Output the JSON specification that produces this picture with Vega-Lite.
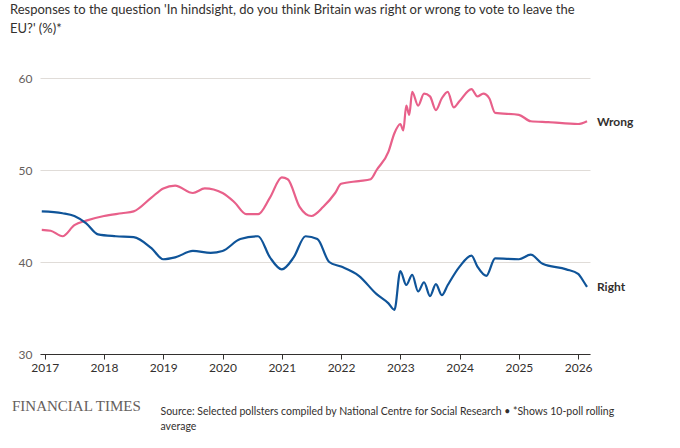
{
"$schema":"https://vega.github.io/schema/vega-lite/v6.json",
"width":550,"height":276,
"autosize":{"type":"none"},
"padding":{"left":40,"top":78,"right":90,"bottom":94},
"background":"#ffffff",
"config":{"font":"Lato","view":{"stroke":null}},
"title":{"text":["Responses to the question 'In hindsight, do you think Britain was right or wrong to vote to leave the","EU?' (%)*"],"anchor":"start","dx":-2,"offset":36,"fontSize":13,"fontWeight":"normal","color":"#33302e","lineHeight":19,"font":"Lato"},
"datasets":{
"lines":[
{"s":"Wrong","t":2016.95,"v":43.5},{"s":"Wrong","t":2017.1,"v":43.4},{"s":"Wrong","t":2017.3,"v":42.8},{"s":"Wrong","t":2017.5,"v":44},{"s":"Wrong","t":2017.7,"v":44.5},{"s":"Wrong","t":2018.0,"v":45},{"s":"Wrong","t":2018.3,"v":45.3},{"s":"Wrong","t":2018.5,"v":45.5},{"s":"Wrong","t":2018.8,"v":47},{"s":"Wrong","t":2019.0,"v":48},{"s":"Wrong","t":2019.2,"v":48.3},{"s":"Wrong","t":2019.5,"v":47.5},{"s":"Wrong","t":2019.7,"v":48},{"s":"Wrong","t":2020.0,"v":47.5},{"s":"Wrong","t":2020.2,"v":46.5},{"s":"Wrong","t":2020.4,"v":45.2},{"s":"Wrong","t":2020.6,"v":45.2},{"s":"Wrong","t":2020.8,"v":47},{"s":"Wrong","t":2021.0,"v":49.2},{"s":"Wrong","t":2021.1,"v":49},{"s":"Wrong","t":2021.3,"v":46},{"s":"Wrong","t":2021.5,"v":45},{"s":"Wrong","t":2021.7,"v":46},{"s":"Wrong","t":2021.9,"v":47.5},{"s":"Wrong","t":2022.0,"v":48.5},{"s":"Wrong","t":2022.3,"v":48.8},{"s":"Wrong","t":2022.5,"v":49},{"s":"Wrong","t":2022.6,"v":50},{"s":"Wrong","t":2022.8,"v":52},{"s":"Wrong","t":2022.9,"v":54},{"s":"Wrong","t":2023.0,"v":55},{"s":"Wrong","t":2023.05,"v":54.3},{"s":"Wrong","t":2023.1,"v":57},{"s":"Wrong","t":2023.15,"v":56},{"s":"Wrong","t":2023.2,"v":58.5},{"s":"Wrong","t":2023.3,"v":57},{"s":"Wrong","t":2023.4,"v":58.3},{"s":"Wrong","t":2023.5,"v":58},{"s":"Wrong","t":2023.6,"v":56.5},{"s":"Wrong","t":2023.7,"v":57.8},{"s":"Wrong","t":2023.8,"v":58.5},{"s":"Wrong","t":2023.9,"v":56.8},{"s":"Wrong","t":2024.0,"v":57.5},{"s":"Wrong","t":2024.2,"v":58.8},{"s":"Wrong","t":2024.3,"v":58},{"s":"Wrong","t":2024.4,"v":58.3},{"s":"Wrong","t":2024.5,"v":57.8},{"s":"Wrong","t":2024.6,"v":56.2},{"s":"Wrong","t":2025.0,"v":56},{"s":"Wrong","t":2025.2,"v":55.3},{"s":"Wrong","t":2025.5,"v":55.2},{"s":"Wrong","t":2026.0,"v":55},{"s":"Wrong","t":2026.15,"v":55.3},
{"s":"Right","t":2016.95,"v":45.5},{"s":"Right","t":2017.3,"v":45.3},{"s":"Right","t":2017.5,"v":45},{"s":"Right","t":2017.7,"v":44.2},{"s":"Right","t":2017.9,"v":43},{"s":"Right","t":2018.2,"v":42.8},{"s":"Right","t":2018.5,"v":42.7},{"s":"Right","t":2018.8,"v":41.5},{"s":"Right","t":2019.0,"v":40.3},{"s":"Right","t":2019.2,"v":40.5},{"s":"Right","t":2019.5,"v":41.2},{"s":"Right","t":2019.8,"v":41},{"s":"Right","t":2020.0,"v":41.2},{"s":"Right","t":2020.3,"v":42.5},{"s":"Right","t":2020.6,"v":42.8},{"s":"Right","t":2020.8,"v":40.5},{"s":"Right","t":2021.0,"v":39.2},{"s":"Right","t":2021.2,"v":40.5},{"s":"Right","t":2021.4,"v":42.8},{"s":"Right","t":2021.6,"v":42.5},{"s":"Right","t":2021.8,"v":40},{"s":"Right","t":2022.0,"v":39.5},{"s":"Right","t":2022.3,"v":38.5},{"s":"Right","t":2022.6,"v":36.5},{"s":"Right","t":2022.8,"v":35.5},{"s":"Right","t":2022.9,"v":34.8},{"s":"Right","t":2023.0,"v":39},{"s":"Right","t":2023.1,"v":37.5},{"s":"Right","t":2023.2,"v":38.6},{"s":"Right","t":2023.3,"v":36.8},{"s":"Right","t":2023.4,"v":37.8},{"s":"Right","t":2023.5,"v":36.3},{"s":"Right","t":2023.6,"v":37.6},{"s":"Right","t":2023.7,"v":36.4},{"s":"Right","t":2023.8,"v":37.5},{"s":"Right","t":2024.0,"v":39.5},{"s":"Right","t":2024.2,"v":40.7},{"s":"Right","t":2024.3,"v":39.5},{"s":"Right","t":2024.45,"v":38.5},{"s":"Right","t":2024.6,"v":40.4},{"s":"Right","t":2025.0,"v":40.3},{"s":"Right","t":2025.2,"v":40.8},{"s":"Right","t":2025.4,"v":39.8},{"s":"Right","t":2025.8,"v":39.2},{"s":"Right","t":2026.0,"v":38.7},{"s":"Right","t":2026.1,"v":37.8},{"s":"Right","t":2026.15,"v":37.3}
],
"labels":[{"s":"Wrong","t":2026.25,"v":55.2},{"s":"Right","t":2026.25,"v":37.3}]
},
"encoding":{
"x":{"field":"t","type":"quantitative","scale":{"domain":[2016.92,2026.2],"nice":false,"zero":false},
"axis":{"values":[2017,2018,2019,2020,2021,2022,2023,2024,2025,2026],"format":"d","grid":false,"domainColor":"#33302e","tickColor":"#33302e","tickSize":5,"labelColor":"#33302e","labelFontSize":12,"labelPadding":3,
"title":["Source: Selected pollsters compiled by National Centre for Social Research • *Shows 10-poll rolling","average"],"titleFontSize":10.5,"titleFontWeight":"normal","titleColor":"#33302e","titleAnchor":"start","titleAlign":"left","titleX":120,"titleY":52,"titleLimit":600,"titleLineHeight":15,"titleBaseline":"top"}},
"y":{"field":"v","type":"quantitative","scale":{"domain":[30,60],"nice":false,"zero":false},
"axis":{"values":[30,40,50,60],"domain":false,"ticks":false,"gridColor":"#e0dcd8","labelColor":"#66605c","labelFontSize":12,"labelPadding":8,"title":null}},
"color":{"field":"s","type":"nominal","scale":{"domain":["Wrong","Right"],"range":["#e8608a","#0f5499"]},"legend":null}
},
"layer":[
{"data":{"name":"lines"},"mark":{"type":"line","strokeWidth":2.2,"interpolate":"monotone"}},
{"data":{"name":"labels"},"mark":{"type":"text","align":"left","dx":4,"fontWeight":"bold","fontSize":12,"color":"#33302e"},"encoding":{"text":{"field":"s"},"color":{"value":"#33302e"}}},
{"data":{"values":[{"t":2016.92,"v":24.3,"txt":"FINANCIAL TIMES"}]},"mark":{"type":"text","align":"left","font":"Liberation Serif","fontSize":15,"color":"#66605c","clip":false,"dx":-28},"encoding":{"text":{"field":"txt"},"color":{"value":"#66605c"}}}
]
}
